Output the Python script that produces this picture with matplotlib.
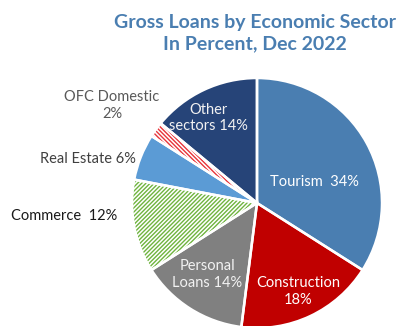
import matplotlib
matplotlib.use("Agg")
import matplotlib.pyplot as plt
import numpy as np

# Gross loans by economic sector, share in percent (Dec 2022)
sectors = ["Tourism", "Construction", "Personal Loans", "Commerce",
           "Real Estate", "OFC Domestic", "Other sectors"]
shares = [34, 18, 14, 12, 6, 2, 14]
label_texts = ["Tourism  34%", "Construction\n18%", "Personal\nLoans 14%",
               "Commerce  12%", "Real Estate 6%", "OFC Domestic\n2%",
               "Other\nsectors 14%"]

colors = ["#4a7eb1", "#c00000", "#808080", "#ffffff", "#5b9bd5", "#ffffff", "#264478"]
hatches = [None, None, None, "/" * 8, None, "\\" * 8, None]
hatch_colors = [None, None, None, "#6fb43f", None, "#e8343a", None]
text_colors = ["#ffffff", "#ffffff", "#f2f2f2", "#1a1a1a", "#404040", "#595959", "#f2f2f2"]
# label anchor offsets from the pie centre, in units of the radius
label_pos = [(0.46, 0.17), (0.33, -0.71), (-0.40, -0.57), (-1.54, -0.10),
             (-1.35, 0.35), (-1.16, 0.78), (-0.39, 0.68)]

plt.rcParams["font.family"] = ["Lato", "DejaVu Sans"]
plt.rcParams["hatch.linewidth"] = 1.0

W, H = 401, 326
fig = plt.figure(figsize=(W / 100, H / 100), dpi=100)

cx, cy, R = 257, 203, 125
ax = fig.add_axes([(cx - R) / W, (H - cy - R) / H, 2 * R / W, 2 * R / H])
ax.set_xlim(-1, 1)
ax.set_ylim(-1, 1)
ax.set_aspect("equal")
ax.axis("off")

wedges, _ = ax.pie(shares, colors=colors, startangle=90, counterclock=False,
                   radius=1, wedgeprops=dict(linewidth=0))
for w, h, hc in zip(wedges, hatches, hatch_colors):
    if h:
        w.set_hatch(h)
        w.set_edgecolor(hc)
        w.set_linewidth(0)

# white separators between slices
ax.pie(shares, startangle=90, counterclock=False, radius=1,
       wedgeprops=dict(facecolor="none", edgecolor="white", linewidth=1.8))
ax.set_xlim(-1, 1)
ax.set_ylim(-1, 1)

for txt, (px, py), tc in zip(label_texts, label_pos, text_colors):
    ax.text(px, py, txt, ha="center", va="center", fontsize=10.5, color=tc,
            linespacing=1.25, clip_on=False)

fig.text(255 / W, 1 - 33 / H, "Gross Loans by Economic Sector\nIn Percent, Dec 2022",
         ha="center", va="center", fontsize=14, fontweight="bold",
         color="#4a7eb1", linespacing=1.3)

fig.savefig("out.png", dpi=100)
